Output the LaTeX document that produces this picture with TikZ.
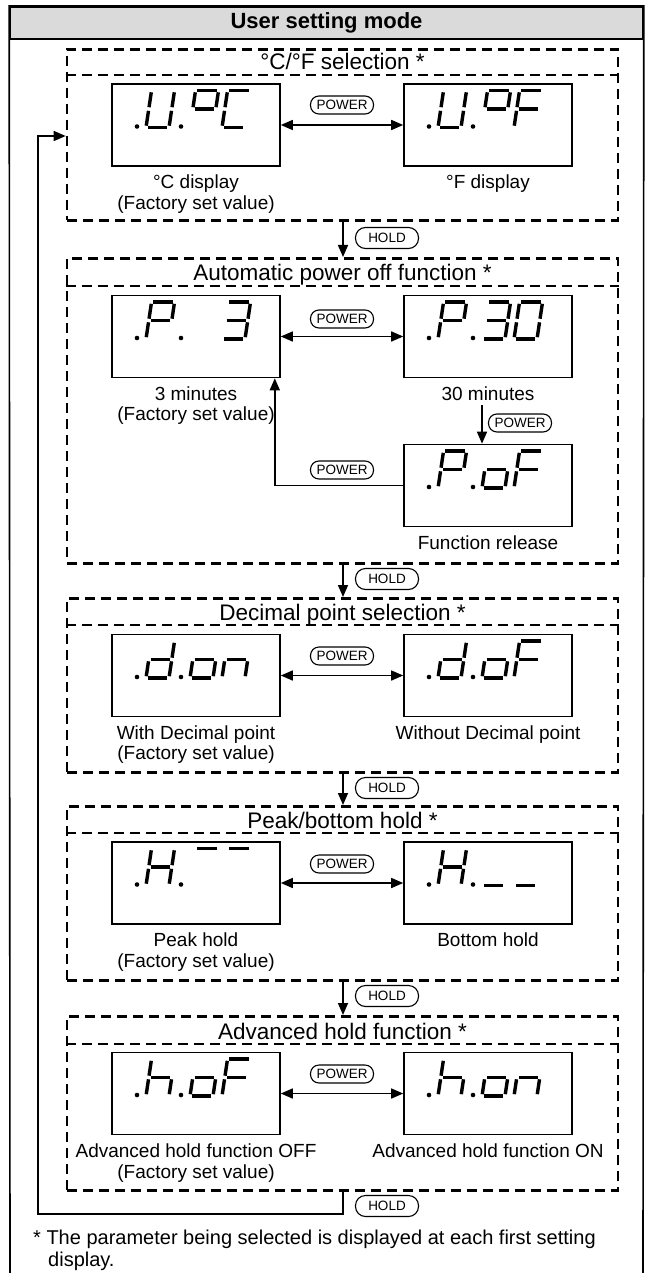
\documentclass[tikz,border=0pt]{standalone}
\usepackage{fontspec}
\setmainfont{Liberation Sans}
\usetikzlibrary{arrows.meta}
\definecolor{hdrgray}{RGB}{218,218,218}
\tikzset{
 segln/.style={line width=3.4pt, line cap=butt},
 disp/.style={draw, line width=1.6pt, minimum width=168pt, minimum height=82pt, inner sep=0pt},
 sect/.style={draw, line width=2.6pt, dash pattern=on 10pt off 6pt, minimum width=551pt, inner sep=0pt, anchor=north},
 divline/.style={line width=2.6pt, dash pattern=on 10pt off 6pt},
 conn/.style={line width=1.5pt},
 arr/.style={conn, -{Triangle[length=12pt,width=10pt]}},
 dbl/.style={conn, {Triangle[length=12pt,width=10pt]}-{Triangle[length=12pt,width=10pt]}},
 pbtn/.style={draw, line width=1.1pt, rounded corners=8.5pt, minimum width=63pt, minimum height=18pt, inner sep=0pt, font=\fontsize{13.5}{14}\selectfont},
 hbtn/.style={draw, line width=1.1pt, rounded corners=10pt, minimum width=63pt, minimum height=21pt, inner sep=0pt, font=\fontsize{13.5}{14}\selectfont},
 lbl/.style={font=\fontsize{19}{21}\selectfont, anchor=base, inner sep=0pt},
 ttl/.style={font=\fontsize{22.5}{25}\selectfont, anchor=base, inner sep=0pt},
 foot/.style={font=\fontsize{20}{22}\selectfont, anchor=base west, inner sep=0pt},
 frame/.style={line width=1.6pt},
}
\newcommand\ssgA{\draw[segln] (1.8,37) -- (21.2,37);}
\newcommand\ssgB{\draw[segln] (23,35.2) -- (23,20.3);}
\newcommand\ssgC{\draw[segln] (23,16.7) -- (23,1.8);}
\newcommand\ssgD{\draw[segln] (1.8,0) -- (21.2,0);}
\newcommand\ssgE{\draw[segln] (0,1.8) -- (0,16.7);}
\newcommand\ssgF{\draw[segln] (0,20.3) -- (0,35.2);}
\newcommand\ssgG{\draw[segln] (1.8,18.5) -- (21.2,18.5);}
\newcommand\sevdig[3]{\begin{scope}[shift={(#1,#2)},x={(1pt,0pt)},y={(0.15pt,1pt)}]\foreach \sg in {#3}{\csname ssg\sg\endcsname}\end{scope}}
\newcommand\lcd[6]{%
 \node[disp] (#1) at (#2,#3) {};
 \pgfmathsetmacro\lcdx{#2-84}%
 \pgfmathsetmacro\lcdy{#3+2.5}%
 \fill (\lcdx+25,\lcdy-1) circle[radius=2.3pt];
 \fill (\lcdx+69,\lcdy-1) circle[radius=2.3pt];
 \sevdig{\lcdx+34}{\lcdy}{#4}%
 \sevdig{\lcdx+78}{\lcdy}{#5}%
 \sevdig{\lcdx+110}{\lcdy}{#6}%
}
\begin{document}
\begin{tikzpicture}[x=1pt,y=-1pt]
\fill[white] (0,0) rectangle (652,1273);
\useasboundingbox (0,0) rectangle (652,1273);
% outer frame and header
\node[draw, frame, fill=hdrgray, minimum width=633pt, minimum height=32pt, inner sep=0pt, anchor=north, font=\fontsize{22}{24}\selectfont\bfseries] (hd) at (326.5,6) {User setting mode};
\draw[frame] (10,1273) -- (hd.north west) -- (hd.north east) -- (643,1273);
% sections
\node[sect, minimum height=171pt] (s1) at (342.5,48) {};
\draw[divline] ([yshift=-27pt]s1.north west) -- ([yshift=-27pt]s1.north east);
\node[ttl] (t1) at (342.5,70) {°C/°F selection *};
\node[sect, minimum height=305pt] (s2) at (342.5,257) {};
\draw[divline] ([yshift=-29pt]s2.north west) -- ([yshift=-29pt]s2.north east);
\node[ttl] (t2) at (342.5,280) {Automatic power off function *};
\node[sect, minimum height=174pt] (s3) at (342.5,597) {};
\draw[divline] ([yshift=-28pt]s3.north west) -- ([yshift=-28pt]s3.north east);
\node[ttl] (t3) at (342.5,620) {Decimal point selection *};
\node[sect, minimum height=174pt] (s4) at (342.5,805) {};
\draw[divline] ([yshift=-28pt]s4.north west) -- ([yshift=-28pt]s4.north east);
\node[ttl] (t4) at (342.5,828) {Peak/bottom hold *};
\node[sect, minimum height=174pt] (s5) at (342.5,1015) {};
\draw[divline] ([yshift=-29pt]s5.north west) -- ([yshift=-29pt]s5.north east);
\node[ttl] (t5) at (342.5,1039) {Advanced hold function *};
% displays
\lcd{c1}{196}{125}{B,C,D,E,F}{A,B,F,G}{A,D,E,F}
\lcd{f1}{488}{125}{B,C,D,E,F}{A,B,F,G}{A,E,F,G}
\lcd{p3}{196}{336.5}{A,B,E,F,G}{}{A,B,C,D,G}
\lcd{p30}{488}{336.5}{A,B,E,F,G}{A,B,C,D,G}{A,B,C,D,E,F}
\lcd{pof}{488}{485.5}{A,B,E,F,G}{C,D,E,G}{A,E,F,G}
\lcd{don}{196}{675.5}{B,C,D,E,G}{C,D,E,G}{C,E,G}
\lcd{dof}{488}{675.5}{B,C,D,E,G}{C,D,E,G}{A,E,F,G}
\lcd{hpk}{196}{883}{B,C,E,F,G}{A}{A}
\lcd{hbt}{488}{883}{B,C,E,F,G}{D}{D}
\lcd{hof}{196}{1093.5}{C,E,F,G}{C,D,E,G}{A,E,F,G}
\lcd{hon}{488}{1093.5}{C,E,F,G}{C,D,E,G}{C,E,G}
% labels
\node[lbl] (l1a) at (196,189) {°C display};
\node[lbl] (l1b) at (196,210) {(Factory set value)};
\node[lbl] (l1c) at (488,189) {°F display};
\node[lbl] (l2a) at (196,400) {3 minutes};
\node[lbl] (l2b) at (196,420) {(Factory set value)};
\node[lbl] (l2c) at (488,400) {30 minutes};
\node[lbl] (l2d) at (488,549) {Function release};
\node[lbl] (l3a) at (196,739) {With Decimal point};
\node[lbl] (l3b) at (196,759) {(Factory set value)};
\node[lbl] (l3c) at (488,739) {Without Decimal point};
\node[lbl] (l4a) at (196,946) {Peak hold};
\node[lbl] (l4b) at (196,967) {(Factory set value)};
\node[lbl] (l4c) at (488,946) {Bottom hold};
\node[lbl] (l5a) at (196,1157) {Advanced hold function OFF};
\node[lbl] (l5b) at (196,1178) {(Factory set value)};
\node[lbl] (l5c) at (488,1157) {Advanced hold function ON};
% power transitions
\draw[dbl] (c1) -- (f1);
\draw[dbl] (p3) -- (p30);
\draw[dbl] (don) -- (dof);
\draw[dbl] (hpk) -- (hbt);
\draw[dbl] (hof) -- (hon);
\node[pbtn] (b1) at (342,105) {POWER};
\node[pbtn] (b2) at (342,319) {POWER};
\node[pbtn] (b3) at (342,656) {POWER};
\node[pbtn] (b4) at (342,864) {POWER};
\node[pbtn] (b5) at (342,1074) {POWER};
\coordinate (a30) at (482,405);
\draw[arr] (a30) -- (a30 |- pof.north);
\node[pbtn] (b2b) at (520,423) {POWER};
\draw[arr] (pof.west) -| ([xshift=-6pt]p3.south east);
\node[pbtn] (b2c) at (342,470) {POWER};
% hold transitions
\coordinate (hx) at (343,0);
\draw[arr] (s1.south -| hx) -- (s2.north -| hx);
\draw[arr] (s2.south -| hx) -- (s3.north -| hx);
\draw[arr] (s3.south -| hx) -- (s4.north -| hx);
\draw[arr] (s4.south -| hx) -- (s5.north -| hx);
\node[hbtn] (h1) at (387,238) {HOLD};
\node[hbtn] (h2) at (387,579) {HOLD};
\node[hbtn] (h3) at (387,788) {HOLD};
\node[hbtn] (h4) at (387,996) {HOLD};
\coordinate (rb) at (343,1214);
\coordinate (rl) at (38,1214);
\coordinate (rt) at (38,136);
\draw[arr] (s5.south -| rb) -- (rb) -- (rl) -- (rt) -- (rt -| s1.west);
\node[hbtn] (h5) at (387,1206) {HOLD};
% footnote
\node[foot] (fn1) at (33,1244) {* The parameter being selected is displayed at each first setting};
\node[foot] (fn2) at (48,1266) {display.};
\end{tikzpicture}
\end{document}
